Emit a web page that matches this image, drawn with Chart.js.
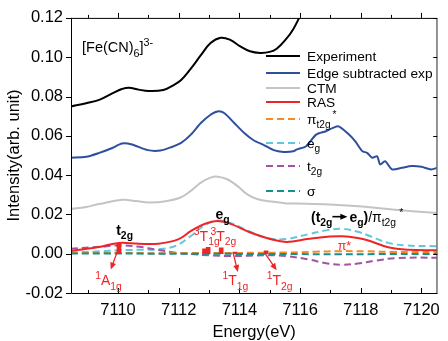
<!DOCTYPE html>
<html>
<head>
<meta charset="utf-8">
<script src="https://cdn.jsdelivr.net/npm/chart.js@4.4.0/dist/chart.umd.min.js"></script>
<style>
  html, body { margin: 0; padding: 0; background: #fff; }
  #wrap { width: 448px; height: 341px; }
</style>
</head>
<body>
<div id="wrap"><canvas id="c" width="448" height="341"></canvas></div>
<script>
// ---- spectra (energy in eV, intensity in arb. units) ----
const expE = [7108.44, 7108.95, 7109.38, 7109.81, 7110.13, 7110.36, 7110.68, 7111.01, 7111.49, 7111.82, 7112.08, 7112.40, 7112.73, 7113.05, 7113.38, 7113.70, 7114.03, 7114.35, 7114.68, 7115.00, 7115.23, 7115.55, 7115.78, 7115.97, 7116.20];
const expI = [0.0749, 0.0766, 0.0783, 0.0816, 0.0838, 0.0845, 0.0835, 0.0828, 0.0833, 0.0857, 0.0884, 0.0942, 0.1010, 0.1072, 0.1099, 0.1088, 0.1055, 0.1030, 0.1022, 0.1027, 0.1043, 0.1094, 0.1144, 0.1200, 0.1270];

const edgeE = [7108.44, 7108.95, 7109.38, 7109.81, 7110.13, 7110.46, 7110.98, 7111.40, 7111.75, 7112.08, 7112.40, 7112.73, 7113.05, 7113.28, 7113.51, 7113.83, 7114.16, 7114.48, 7114.81, 7115.13, 7115.45, 7115.78, 7115.88, 7116.20, 7116.53, 7116.85, 7117.08, 7117.27, 7117.56, 7117.82, 7118.05, 7118.21, 7118.38, 7118.54, 7118.64, 7118.80, 7119.03, 7119.35, 7119.68, 7120.00, 7120.32, 7120.52];
const edgeI = [0.0488, 0.0493, 0.0513, 0.0538, 0.0561, 0.0556, 0.0527, 0.0525, 0.0542, 0.0564, 0.0606, 0.0665, 0.0707, 0.0724, 0.0715, 0.0665, 0.0614, 0.0576, 0.0553, 0.0527, 0.0518, 0.0521, 0.0530, 0.0547, 0.0606, 0.0623, 0.0640, 0.0648, 0.0614, 0.0572, 0.0522, 0.0513, 0.0488, 0.0496, 0.0454, 0.0471, 0.0429, 0.0437, 0.0446, 0.0442, 0.0429, 0.0437];

const ctmE = [7108.44, 7108.95, 7109.38, 7110.13, 7110.60, 7111.01, 7111.53, 7112.06, 7112.40, 7112.73, 7113.05, 7113.28, 7113.60, 7113.93, 7114.25, 7114.58, 7115.13, 7115.55, 7115.88, 7116.95, 7118.05, 7119.12, 7120.52];
const ctmI = [0.0227, 0.0238, 0.0253, 0.0274, 0.0268, 0.0261, 0.0266, 0.0286, 0.0320, 0.0362, 0.0387, 0.0392, 0.0379, 0.0345, 0.0303, 0.0278, 0.0264, 0.0256, 0.0255, 0.0250, 0.0240, 0.0224, 0.0207];

const rasE = [7108.44, 7108.73, 7109.38, 7110.03, 7110.68, 7111.33, 7111.98, 7112.41, 7112.85, 7113.28, 7113.71, 7114.36, 7115.01, 7115.55, 7116.30, 7116.90, 7117.40, 7117.90, 7118.25, 7118.90, 7119.55, 7120.52];
const rasI = [0.0015, 0.0020, 0.0034, 0.0055, 0.0051, 0.0051, 0.0073, 0.0116, 0.0151, 0.0166, 0.0152, 0.0108, 0.0075, 0.0060, 0.0076, 0.0086, 0.0089, 0.0080, 0.0067, 0.0033, 0.0020, 0.0017];

const piE = [7108.44, 7110.0, 7112.0, 7114.0, 7115.5, 7116.5, 7117.3, 7118.2, 7119.0, 7120.52];
const piI = [0.0003, 0.0003, 0.0003, 0.0004, 0.0006, 0.0010, 0.0013, 0.0012, 0.0009, 0.0008];

const egE = [7108.44, 7109.40, 7110.00, 7110.70, 7111.30, 7111.90, 7112.40, 7112.86, 7113.28, 7113.70, 7114.35, 7115.00, 7115.55, 7116.30, 7116.90, 7117.40, 7117.90, 7118.30, 7118.90, 7119.50, 7120.52];
const egI = [0.0006, 0.0012, 0.0017, 0.0020, 0.0022, 0.0040, 0.0090, 0.0145, 0.0168, 0.0157, 0.0112, 0.0078, 0.0075, 0.0100, 0.0120, 0.0126, 0.0112, 0.0090, 0.0055, 0.0042, 0.0038];

const t2gE = [7108.44, 7109.40, 7110.00, 7110.70, 7111.30, 7111.90, 7112.40, 7113.00, 7113.70, 7114.35, 7115.00, 7115.55, 7116.30, 7116.90, 7117.40, 7117.90, 7118.50, 7119.20, 7120.52];
const t2gI = [0.0025, 0.0035, 0.0042, 0.0035, 0.0020, 0.0005, -0.0002, -0.0008, -0.0012, -0.0010, -0.0008, -0.0012, -0.0030, -0.0050, -0.0056, -0.0050, -0.0035, -0.0022, -0.0020];

const sigmaE = [7108.44, 7112.0, 7114.0, 7116.0, 7117.3, 7118.5, 7120.52];
const sigmaI = [0.0001, 0.0000, -0.0001, -0.0002, -0.0003, -0.0002, -0.0002];

// RAS multiplet sticks
const stickE = [7110.03, 7112.85, 7112.97, 7113.40, 7113.85, 7114.88];
const stickI = [0.0050, 0.0025, 0.0032, 0.0030, 0.0008, 0.0015];

// axis ranges
const xMin = 7108.45, xMax = 7120.52;
const yMin = -0.02, yMax = 0.12;

const FONT = "'Liberation Sans', Arial, Helvetica, sans-serif";
const C = {
  exp: '#000000', edge: '#2d4f9e', ctm: '#c4c4c4', ras: '#ee2526',
  pi: '#f58a2a', eg: '#62c6de', t2g: '#a452a8', sigma: '#13918f'
};
const DASH = [7, 4];

const pts = (e, v) => e.map((x, i) => ({ x, y: v[i] }));

function line(data, color, dashed, tension) {
  return {
    type: 'line', data, borderColor: color, borderWidth: 2,
    borderDash: dashed ? DASH : [], pointRadius: 0, fill: false,
    tension: tension === undefined ? 0.4 : tension
  };
}

// text runs with sub/superscripts
function rich(ctx, x, y, parts, size, color, bold) {
  let cx = x;
  ctx.fillStyle = color;
  ctx.textAlign = 'left';
  ctx.textBaseline = 'alphabetic';
  for (const p of parts) {
    const o = typeof p === 'string' ? { t: p } : p;
    const k = o.k || '';
    const s = k ? size * 0.74 : size;
    const dy = k === 'sub' ? size * 0.32 : k === 'sup' ? -size * 0.42 : 0;
    const b = o.b !== undefined ? o.b : bold;
    ctx.font = (b ? 'bold ' : '') + s + 'px ' + FONT;
    if (o.t) ctx.fillText(o.t, cx, y + dy);
    cx += (o.t ? ctx.measureText(o.t).width : 0) + (o.gap || 0);
  }
  return cx;
}

function arrow(ctx, x1, y1, x2, y2, color, lw) {
  const a = Math.atan2(y2 - y1, x2 - x1), L = 7, W = 3;
  ctx.save();
  ctx.strokeStyle = color; ctx.fillStyle = color; ctx.lineWidth = lw || 1.3;
  ctx.beginPath();
  ctx.moveTo(x1, y1);
  ctx.lineTo(x2 - L * 0.8 * Math.cos(a), y2 - L * 0.8 * Math.sin(a));
  ctx.stroke();
  ctx.beginPath();
  ctx.moveTo(x2, y2);
  ctx.lineTo(x2 - L * Math.cos(a) + W * Math.sin(a), y2 - L * Math.sin(a) - W * Math.cos(a));
  ctx.lineTo(x2 - L * Math.cos(a) - W * Math.sin(a), y2 - L * Math.sin(a) + W * Math.cos(a));
  ctx.closePath();
  ctx.fill();
  ctx.restore();
}

const decorations = {
  id: 'decorations',
  afterDraw(chart) {
    const ctx = chart.ctx;
    const xs = chart.scales.x, ys = chart.scales.y;
    const a = chart.chartArea;
    const X = v => xs.getPixelForValue(v), Y = v => ys.getPixelForValue(v);

    ctx.save();
    // frame
    ctx.strokeStyle = '#000';
    ctx.lineWidth = 1;
    ctx.beginPath();
    ctx.moveTo(a.left + 0.5, a.top); ctx.lineTo(a.left + 0.5, a.bottom + 0.5);
    ctx.lineTo(a.right, a.bottom + 0.5);
    ctx.moveTo(a.left, a.top + 0.5); ctx.lineTo(a.right, a.top + 0.5);
    ctx.stroke();
    ctx.strokeStyle = '#707070';
    ctx.lineWidth = 1.5;
    ctx.beginPath();
    ctx.moveTo(a.right - 0.25, a.top); ctx.lineTo(a.right - 0.25, a.bottom + 1);
    ctx.stroke();

    // tick marks
    ctx.strokeStyle = '#000';
    ctx.lineWidth = 1;
    ctx.beginPath();
    xs.ticks.forEach(t => {
      const major = Math.round(t.value) % 2 === 0;
      const px = Math.round(X(t.value)) + 0.5;
      const len = major ? 5 : 3;
      ctx.moveTo(px, a.bottom); ctx.lineTo(px, a.bottom - len);
      ctx.moveTo(px, a.top); ctx.lineTo(px, a.top - len);
    });
    ys.ticks.forEach(t => {
      const major = Math.round(t.value * 100) % 2 === 0;
      const py = Math.round(Y(t.value)) + 0.5;
      ctx.moveTo(a.left, py); ctx.lineTo(a.left - (major ? 5 : 3), py);
      ctx.moveTo(a.right, py); ctx.lineTo(a.right - 4, py);
    });
    ctx.stroke();

    // compound label
    rich(ctx, a.left + 11, a.top + 34, ['[Fe(CN)', { t: '6', k: 'sub' }, ']', { t: '3-', k: 'sup' }], 14.5, '#000', false);

    // legend
    const lx0 = 266, lx1 = 300, tx = 307;
    const legend = [
      { y: 56, c: C.exp, d: false, parts: ['Experiment'] },
      { y: 73, c: C.edge, d: false, parts: ['Edge subtracted exp'] },
      { y: 88, c: C.ctm, d: false, parts: ['CTM'] },
      { y: 102, c: C.ras, d: false, parts: ['RAS'] },
      { y: 119, c: C.pi, d: true, parts: ['\u03c0', { t: 't2g', k: 'sub', gap: 2 }, { t: '*', k: 'sup' }] },
      { y: 143, c: C.eg, d: true, parts: ['e', { t: 'g', k: 'sub' }] },
      { y: 166, c: C.t2g, d: true, parts: ['t', { t: '2g', k: 'sub' }] },
      { y: 191, c: C.sigma, d: true, parts: ['\u03c3'] }
    ];
    legend.forEach(l => {
      ctx.strokeStyle = l.c;
      ctx.lineWidth = 2;
      ctx.setLineDash(l.d ? DASH : []);
      ctx.beginPath(); ctx.moveTo(lx0, l.y); ctx.lineTo(lx1, l.y); ctx.stroke();
      ctx.setLineDash([]);
      rich(ctx, tx, l.y + 5, l.parts, 13.7, '#000', false);
    });

    // peak labels
    rich(ctx, X(7109.94), Y(0.0097), ['t', { t: '2g', k: 'sub' }], 14, '#000', true);
    rich(ctx, X(7113.21), Y(0.0178), ['e', { t: 'g', k: 'sub' }], 14, '#000', true);
    const bx = X(7116.36), by = Y(0.0163);
    const ax = rich(ctx, bx, by, ['(t', { t: '2g', k: 'sub' }], 14, '#000', true);
    arrow(ctx, ax, by - 5, ax + 15, by - 5, '#000', 1.6);
    rich(ctx, ax + 17, by, ['e', { t: 'g', k: 'sub' }, ')', { t: '/\u03c0', b: false }, { t: 't2g', k: 'sub', b: false, gap: 3 }, { t: '*', k: 'sup', b: false }], 14, '#000', true);

    // multiplet labels
    const red = C.ras;
    rich(ctx, X(7117.24), Y(0.0017), ['\u03c0*'], 12.5, red, false);
    rich(ctx, X(7112.73) - 7, Y(0.0067), [{ t: '3', k: 'sup' }, 'T', { t: '1g', k: 'sub' }], 14, red, false);
    rich(ctx, X(7113.28) - 7, Y(0.0067), [{ t: '3', k: 'sup' }, 'T', { t: '2g', k: 'sub' }], 14, red, false);
    rich(ctx, X(7109.48) - 7, Y(-0.016), [{ t: '1', k: 'sup' }, 'A', { t: '1g', k: 'sub' }], 14, red, false);
    rich(ctx, X(7113.67) - 7, Y(-0.016), [{ t: '1', k: 'sup' }, 'T', { t: '1g', k: 'sub' }], 14, red, false);
    rich(ctx, X(7115.13) - 7, Y(-0.016), [{ t: '1', k: 'sup' }, 'T', { t: '2g', k: 'sub' }], 14, red, false);

    arrow(ctx, X(7110.05), Y(0.0042), X(7109.76), Y(-0.0081), red);
    arrow(ctx, X(7113.80), Y(0.0), X(7113.95), Y(-0.0093), red);
    arrow(ctx, X(7114.85), Y(0.0), X(7115.23), Y(-0.0084), red);
    ctx.restore();
  }
};

Chart.defaults.font.family = FONT;
Chart.defaults.color = '#000';

new Chart(document.getElementById('c'), {
  type: 'line',
  data: {
    datasets: [
      {
        type: 'bar', data: pts(stickE, stickI), backgroundColor: C.ras,
        barThickness: 4, borderWidth: 0
      },
      line(pts(rasE, rasI), C.ras, false),
      line(pts(expE, expI), C.exp, false),
      line(pts(edgeE, edgeI), C.edge, false, 0.25),
      line(pts(ctmE, ctmI), C.ctm, false),
      line(pts(sigmaE, sigmaI), C.sigma, true),
      line(pts(piE, piI), C.pi, true),
      line(pts(t2gE, t2gI), C.t2g, true),
      line(pts(egE, egI), C.eg, true)
    ]
  },
  options: {
    responsive: false,
    animation: false,
    devicePixelRatio: 1,
    layout: { padding: { top: 16, right: 5, left: 0, bottom: 0 } },
    plugins: { legend: { display: false }, tooltip: { enabled: false } },
    scales: {
      x: {
        type: 'linear', min: xMin, max: xMax, offset: false,
        grid: { display: false, drawTicks: false },
        border: { display: false },
        ticks: {
          stepSize: 1, includeBounds: false, autoSkip: false, maxRotation: 0,
          padding: 8, font: { size: 16.5 },
          callback: v => {
            const r = Math.round(v);
            return (Math.abs(v - r) < 1e-6 && r % 2 === 0) ? String(r) : '';
          }
        },
        title: { display: true, text: 'Energy(eV)', font: { size: 16.5, lineHeight: 1 }, padding: 0 },
        afterFit: s => { s.height = 48; }
      },
      y: {
        min: yMin, max: yMax,
        grid: { display: false, drawTicks: false },
        border: { display: false },
        ticks: {
          stepSize: 0.01, padding: 8, font: { size: 16.5 },
          callback: v => {
            const k = Math.round(v * 100);
            return k % 2 === 0 ? (k / 100).toFixed(2) : '';
          }
        },
        title: { display: true, text: 'Intensity(arb. unit)', font: { size: 16.5, lineHeight: 1.2 }, padding: { top: 5, bottom: 0 } },
        afterFit: s => { s.width = 71; }
      }
    }
  },
  plugins: [decorations]
});
</script>
</body>
</html>
